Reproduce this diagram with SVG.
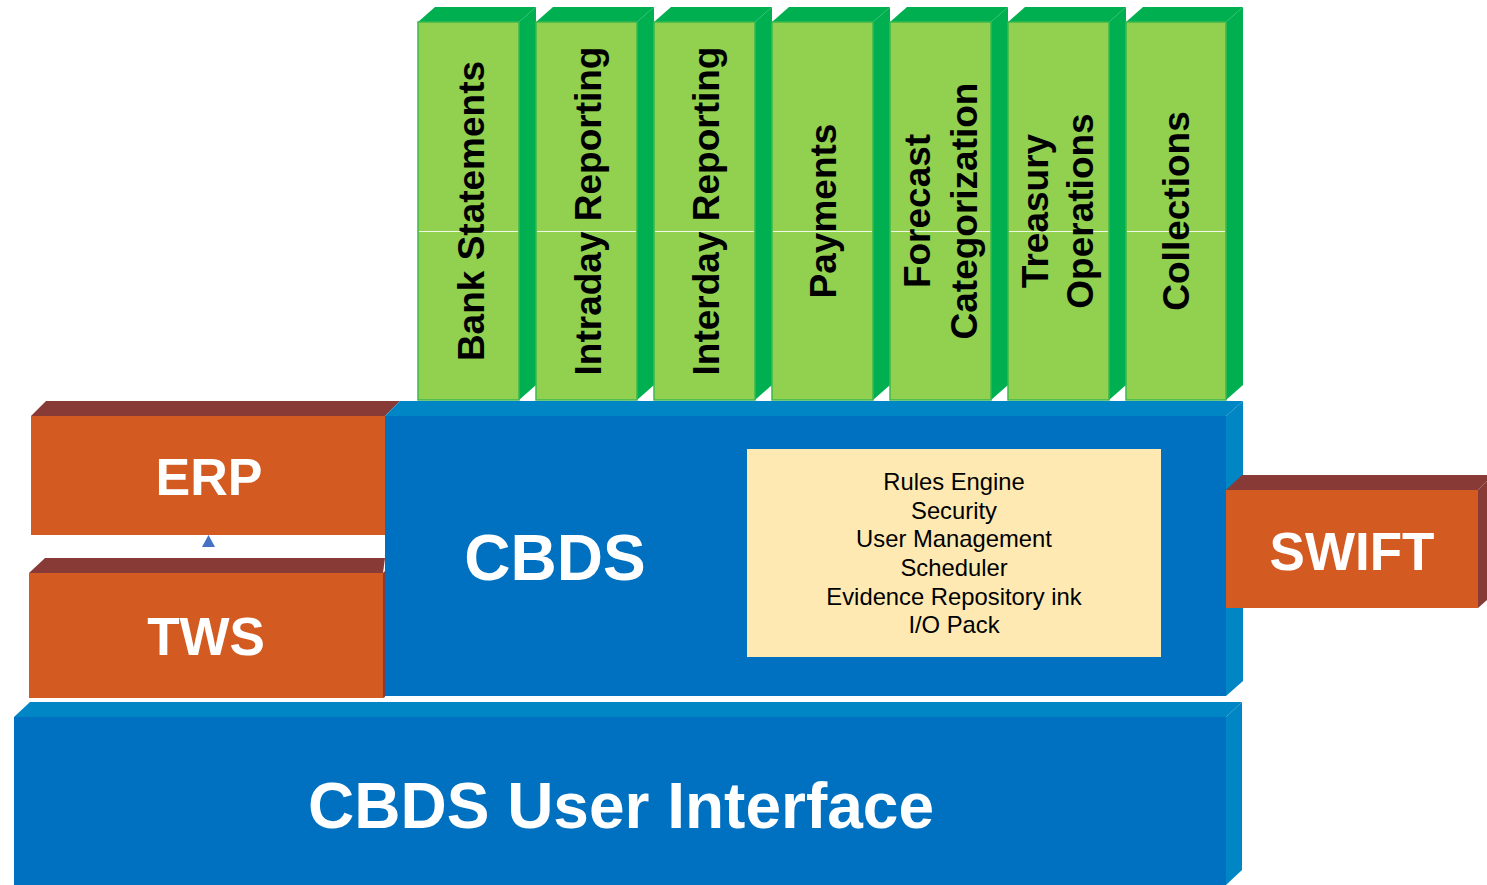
<svg xmlns="http://www.w3.org/2000/svg" width="1487" height="885" viewBox="0 0 1487 885">
<defs>
<style>
.gf{fill:#92D050;stroke:#3DB84E;stroke-width:1.5}
.gd{fill:#00B050}
.bf{fill:#0070C0}
.bd{fill:#0086C4}
.of{fill:#D35B21}
.od{fill:#873A36}
.gt{font-family:"Liberation Sans",Arial,sans-serif;font-weight:bold;font-size:37px;fill:#000;text-anchor:middle}
.wt{font-family:"Liberation Sans",Arial,sans-serif;font-weight:bold;fill:#fff;text-anchor:middle}
.yt{font-family:"Liberation Sans",Arial,sans-serif;font-size:23.8px;fill:#000;text-anchor:middle}
.hl{stroke:#fff;stroke-width:1;opacity:0.85}
</style>
</defs>
<rect width="1487" height="885" fill="#fff"/>

<g id="ui">
<polygon class="bd" points="14,717 30,702 1242,702 1226,717"/>
<polygon class="bd" points="1226,717 1242,702 1242,870 1226,885"/>
<rect class="bf" x="14" y="717" width="1212" height="168"/>
<text class="wt" x="621" y="828" font-size="64">CBDS User Interface</text>
</g>

<g id="erp">
<polygon class="od" points="31,416 46,401 400,401 385,416"/>
<rect class="of" x="31" y="416" width="354" height="119"/>
<text class="wt" x="209" y="495" font-size="52">ERP</text>
</g>

<g id="tws">
<polygon class="od" points="29,573 45,558 385,558 383,573"/>
<polygon class="od" points="383,573 385,571 385,697 383,698"/>
<rect class="of" x="29" y="573" width="354" height="125"/>
<text class="wt" x="206" y="655" font-size="53">TWS</text>
</g>

<g id="cbds">
<polygon class="bd" points="385,416 400,401 1243,401 1226,416"/>
<polygon class="bd" points="1226,416 1243,401 1243,681 1226,696"/>
<rect class="bf" x="385" y="416" width="841" height="280"/>
<text class="wt" x="555" y="580" font-size="64">CBDS</text>
</g>

<g id="services">
<rect x="747" y="449" width="414" height="208" fill="#FDE9B1"/>
<text class="yt" x="954" y="490">Rules Engine</text>
<text class="yt" x="954" y="519">Security</text>
<text class="yt" x="954" y="547">User Management</text>
<text class="yt" x="954" y="576">Scheduler</text>
<text class="yt" x="954" y="605">Evidence Repository ink</text>
<text class="yt" x="954" y="633">I/O Pack</text>
</g>

<g id="swift">
<polygon class="od" points="1226,490 1242,475 1487,475 1487,481 1478,490"/>
<polygon class="od" points="1478,490 1487,481 1487,600 1478,608"/>
<rect class="of" x="1226" y="490" width="252" height="118"/>
<text class="wt" x="1352" y="570" font-size="53">SWIFT</text>
</g>

<g id="col-bank-statements">
<polygon class="gd" points="418,22 435,7 536,7 519,22"/>
<polygon class="gd" points="519,22 536,7 536,385 519,400"/>
<rect class="gf" x="418" y="22" width="101" height="378"/>
<line class="hl" x1="419" y1="231.5" x2="518" y2="231.5"/>
<text class="gt" transform="translate(484,211) rotate(-90)">Bank Statements</text>
</g>

<g id="col-intraday-reporting">
<polygon class="gd" points="536,22 553,7 654,7 637,22"/>
<polygon class="gd" points="637,22 654,7 654,385 637,400"/>
<rect class="gf" x="536" y="22" width="101" height="378"/>
<line class="hl" x1="537" y1="231.5" x2="636" y2="231.5"/>
<text class="gt" transform="translate(601,211) rotate(-90)">Intraday Reporting</text>
</g>

<g id="col-interday-reporting">
<polygon class="gd" points="654,22 671,7 772,7 755,22"/>
<polygon class="gd" points="755,22 772,7 772,385 755,400"/>
<rect class="gf" x="654" y="22" width="101" height="378"/>
<line class="hl" x1="655" y1="231.5" x2="754" y2="231.5"/>
<text class="gt" transform="translate(719,211) rotate(-90)">Interday Reporting</text>
</g>

<g id="col-payments">
<polygon class="gd" points="772,22 789,7 890,7 873,22"/>
<polygon class="gd" points="873,22 890,7 890,385 873,400"/>
<rect class="gf" x="772" y="22" width="101" height="378"/>
<line class="hl" x1="773" y1="231.5" x2="872" y2="231.5"/>
<text class="gt" transform="translate(836,211) rotate(-90)">Payments</text>
</g>

<g id="col-forecast-categorization">
<polygon class="gd" points="890,22 907,7 1008,7 991,22"/>
<polygon class="gd" points="991,22 1008,7 1008,385 991,400"/>
<rect class="gf" x="890" y="22" width="101" height="378"/>
<line class="hl" x1="891" y1="231.5" x2="990" y2="231.5"/>
<text class="gt" transform="translate(930,211) rotate(-90)">Forecast</text>
<text class="gt" transform="translate(977,211) rotate(-90)">Categorization</text>
</g>

<g id="col-treasury-operations">
<polygon class="gd" points="1008,22 1025,7 1126,7 1109,22"/>
<polygon class="gd" points="1109,22 1126,7 1126,385 1109,400"/>
<rect class="gf" x="1008" y="22" width="101" height="378"/>
<line class="hl" x1="1009" y1="231.5" x2="1108" y2="231.5"/>
<text class="gt" transform="translate(1048,211) rotate(-90)">Treasury</text>
<text class="gt" transform="translate(1093,211) rotate(-90)">Operations</text>
</g>

<g id="col-collections">
<polygon class="gd" points="1126,22 1143,7 1243,7 1226,22"/>
<polygon class="gd" points="1226,22 1243,7 1243,385 1226,400"/>
<rect class="gf" x="1126" y="22" width="100" height="378"/>
<line class="hl" x1="1127" y1="231.5" x2="1225" y2="231.5"/>
<text class="gt" transform="translate(1189,211) rotate(-90)">Collections</text>
</g>

<g id="connectors">
<polygon points="202,547 215,547 208.5,535" fill="#4472C4"/>
</g>
</svg>
